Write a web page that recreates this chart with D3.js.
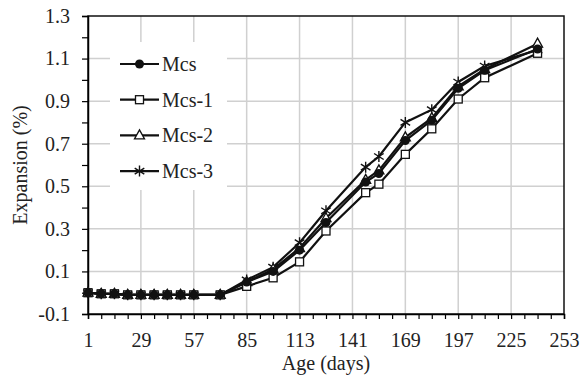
<!DOCTYPE html>
<html>
<head>
<meta charset="utf-8">
<script src="https://cdn.jsdelivr.net/npm/d3@7"></script>
<style>
  body { margin: 0; background: #fff; }
</style>
</head>
<body>
<div id="chart"></div>
<script>
var width = 581;
var height = 385;
var serif = "Liberation Serif, Tinos, Nimbus Roman, Nimbus Roman No9 L, FreeSerif, Noto Serif, DejaVu Serif, Times New Roman, serif";

// data
var days = [1, 8, 15, 22, 29, 36, 43, 50, 57, 71, 85, 99, 113, 127, 148, 155, 169, 183, 197, 211, 239];
var mcs  = [0.0, -0.005, -0.005, -0.01, -0.01, -0.01, -0.01, -0.01, -0.01, -0.01, 0.05, 0.10, 0.20, 0.33, 0.52, 0.56, 0.715, 0.81, 0.96, 1.045, 1.145];
var mcs1 = [0.0, -0.005, -0.005, -0.01, -0.01, -0.01, -0.01, -0.01, -0.01, -0.01, 0.03, 0.07, 0.145, 0.29, 0.47, 0.51, 0.65, 0.77, 0.91, 1.01, 1.125];
var mcs2 = [0.0, -0.005, -0.005, -0.01, -0.01, -0.01, -0.01, -0.01, -0.01, -0.01, 0.05, 0.11, 0.21, 0.35, 0.53, 0.575, 0.73, 0.82, 0.97, 1.05, 1.17];
var mcs3 = [0.0, -0.005, -0.005, -0.01, -0.01, -0.01, -0.01, -0.01, -0.01, -0.01, 0.06, 0.12, 0.235, 0.385, 0.59, 0.64, 0.80, 0.86, 0.99, 1.065, 1.14];
var seriesNames = ["Mcs", "Mcs-1", "Mcs-2", "Mcs-3"];
var seriesMarkers = ["circle", "square", "triangle", "star"];
var xTicks = [1, 29, 57, 85, 113, 141, 169, 197, 225, 253];
var yTicks = [-0.1, 0.1, 0.3, 0.5, 0.7, 0.9, 1.1, 1.3];

var series = [mcs, mcs1, mcs2, mcs3].map(function(vals, i){
  return {name: seriesNames[i], marker: seriesMarkers[i],
    values: vals.map(function(v, j){ return {day: days[j], v: v}; })};
});

var svg = d3.select("#chart")
  .append("svg")
    .attr("width", width)
    .attr("height", height)
    .style("font-family", serif);

var x = d3.scaleLinear().domain([1, 253]).range([88, 564]);
var y = d3.scaleLinear().domain([-0.1, 1.3]).range([314, 16]);

// grid
svg.append("g").selectAll("line.gy")
  .data(yTicks.slice(1, -1))
  .enter().append("line")
    .attr("x1", x(1)).attr("x2", x(253))
    .attr("y1", d => y(d)).attr("y2", d => y(d))
    .attr("stroke", "#d0d0d0").attr("stroke-width", 1.5);
svg.append("g").selectAll("line.gx")
  .data(xTicks.slice(1, -1))
  .enter().append("line")
    .attr("x1", d => x(d)).attr("x2", d => x(d))
    .attr("y1", y(-0.1)).attr("y2", y(1.3))
    .attr("stroke", "#d0d0d0").attr("stroke-width", 1.5);

// frame
svg.append("rect")
  .attr("x", x(1)).attr("y", y(1.3))
  .attr("width", x(253) - x(1)).attr("height", y(-0.1) - y(1.3))
  .attr("fill", "none").attr("stroke", "#111").attr("stroke-width", 1.5);

// axes
var xAxis = svg.append("g")
  .attr("transform", "translate(0," + y(-0.1) + ")")
  .call(d3.axisBottom(x).tickValues(d3.range(1, 254, 7)).tickSize(5).tickFormat(""));
xAxis.select(".domain").attr("stroke-width", 1.5);
xAxis.selectAll(".tick line").attr("stroke-width", 1.2);
var xLab = svg.append("g")
  .attr("transform", "translate(0," + y(-0.1) + ")")
  .call(d3.axisBottom(x).tickValues(xTicks).tickSize(0).tickPadding(19).tickFormat(d3.format("d")));
xLab.select(".domain").remove();
xLab.attr("font-family", null).attr("font-size", null);
xLab.selectAll("text").style("font-family", serif).style("font-size", "20px").attr("fill", "#222");

var yAxis = svg.append("g")
  .attr("transform", "translate(" + x(1) + ",0)")
  .call(d3.axisLeft(y).tickValues(d3.range(-0.1, 1.31, 0.1)).tickSize(6).tickFormat(""));
yAxis.select(".domain").attr("stroke-width", 1.5);
yAxis.selectAll(".tick line").attr("stroke-width", 1.2);
var yLab = svg.append("g")
  .attr("transform", "translate(" + x(1) + ",0)")
  .call(d3.axisLeft(y).tickValues(yTicks).tickSize(0).tickPadding(18).tickFormat(d => d.toFixed(1)));
yLab.select(".domain").remove();
yLab.attr("font-family", null).attr("font-size", null);
yLab.selectAll("text").style("font-family", serif).style("font-size", "20px").attr("fill", "#222");

svg.append("text")
  .attr("x", (x(1) + x(253)) / 2).attr("y", 370)
  .attr("text-anchor", "middle")
  .style("font-family", serif).style("font-size", "20px").attr("fill", "#222")
  .text("Age (days)");
svg.append("text")
  .attr("transform", "translate(27," + ((y(-0.1) + y(1.3)) / 2) + ") rotate(-90)")
  .attr("text-anchor", "middle")
  .style("font-family", serif).style("font-size", "20px").attr("fill", "#222")
  .text("Expansion (%)");

// markers
function drawMarker(g, type){
  if (type === "circle") {
    g.append("circle").attr("r", 4.5).attr("fill", "#111");
  } else if (type === "square") {
    g.append("rect").attr("x", -4).attr("y", -4).attr("width", 8).attr("height", 8)
      .attr("fill", "#fff").attr("stroke", "#111").attr("stroke-width", 1.3);
  } else if (type === "triangle") {
    g.append("path").attr("d", "M0,-5.5L5,3.5L-5,3.5Z")
      .attr("fill", "#fff").attr("stroke", "#111").attr("stroke-width", 1.3);
  } else {
    g.append("path").attr("d", "M0,-5.5V5.5M-4.8,-3L4.8,3M-4.8,3L4.8,-3")
      .attr("fill", "none").attr("stroke", "#111").attr("stroke-width", 1.4);
  }
}

var line = d3.line().x(d => x(d.day)).y(d => y(d.v));

// draw in reverse so Mcs sits on top
series.slice().reverse().forEach(function(s){
  svg.append("path")
    .datum(s.values)
    .attr("d", line)
    .attr("fill", "none")
    .attr("stroke", "#111")
    .attr("stroke-width", 2.2);
  svg.append("g").selectAll("g")
    .data(s.values)
    .enter().append("g")
      .attr("transform", d => "translate(" + x(d.day) + "," + y(d.v) + ")")
      .each(function(){ drawMarker(d3.select(this), s.marker); });
});

// legend
var legend = svg.append("g");
legend.append("rect")
  .attr("x", 110).attr("y", 42).attr("width", 117).attr("height", 148)
  .attr("fill", "#fff");
var legendItem = legend.selectAll(".legend-item")
  .data(series)
  .enter().append("g")
    .attr("class", "legend-item")
    .attr("transform", (d, i) => "translate(120," + (64 + i * 35.7) + ")");
legendItem.append("line")
  .attr("x1", 0).attr("x2", 39)
  .attr("stroke", "#111").attr("stroke-width", 2.2);
legendItem.append("g")
  .attr("transform", "translate(19.5,0)")
  .each(function(d){ drawMarker(d3.select(this), d.marker); });
legendItem.append("text")
  .attr("x", 42).attr("y", 7)
  .style("font-family", serif).style("font-size", "20px").attr("fill", "#222")
  .text(d => d.name);
</script>
</body>
</html>
